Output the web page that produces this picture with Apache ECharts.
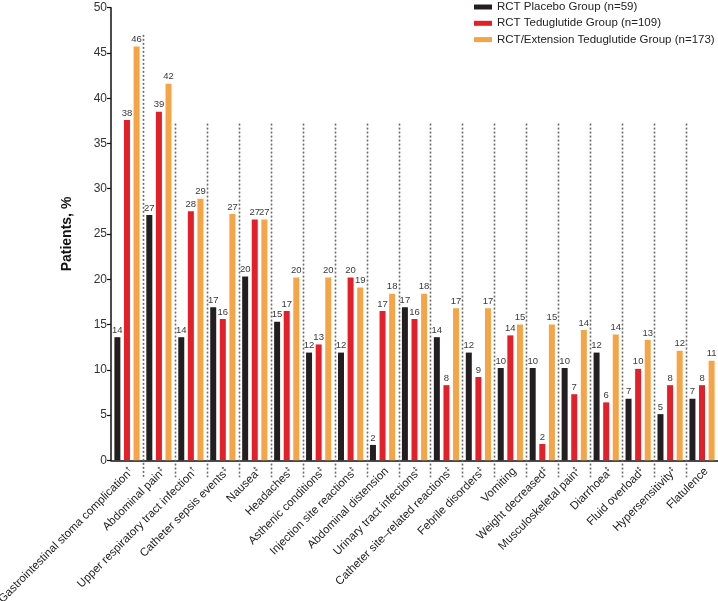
<!DOCTYPE html>
<html>
<head>
<meta charset="utf-8">
<script src="https://cdn.jsdelivr.net/npm/echarts@6/dist/echarts.min.js"></script>
<style>
html,body{margin:0;padding:0;background:#fff;}
#chart{width:718px;height:601px;}
</style>
</head>
<body>
<div id="chart"></div>
<script>
var categories = [
  'Gastrointestinal stoma complication', 'Abdominal pain', 'Upper respiratory tract infection',
  'Catheter sepsis events', 'Nausea', 'Headaches', 'Asthenic conditions', 'Injection site reactions',
  'Abdominal distension', 'Urinary tract infections', 'Catheter site\u2013related reactions',
  'Febrile disorders', 'Vomiting', 'Weight decreased', 'Musculoskeletal pain', 'Diarrhoea',
  'Fluid overload', 'Hypersensitivity', 'Flatulence'
];
var footnotes = ['\u2020', '\u2021', '\u2020', '\u2021', '\u2021', '\u2021', '\u2021', '\u2021', '',
  '\u2021', '\u2021', '\u2021', '', '\u2021', '\u2021', '\u2021', '\u2021', '\u2021', ''];
var seriesNames = ['RCT Placebo Group (n=59)', 'RCT Teduglutide Group (n=109)', 'RCT/Extension Teduglutide Group (n=173)'];
var placebo = [13.6, 27.1, 13.6, 16.9, 20.3, 15.3, 11.9, 11.9, 1.7, 16.9, 13.6, 11.9, 10.2, 10.2, 10.2, 11.9, 6.8, 5.1, 6.8];
var teduglutide = [37.6, 38.5, 27.5, 15.6, 26.6, 16.5, 12.8, 20.2, 16.5, 15.6, 8.3, 9.2, 13.8, 1.8, 7.3, 6.4, 10.1, 8.3, 8.3];
var extension = [45.7, 41.6, 28.9, 27.2, 26.6, 20.2, 20.2, 19.1, 18.4, 18.4, 16.8, 16.8, 15.0, 15.0, 14.4, 13.9, 13.3, 12.1, 11.0];
var yTicks = [0, 5, 10, 15, 20, 25, 30, 35, 40, 45, 50];

var colors = ['#231f20', '#e3202a', '#f5a446'];

var sepData = [];
for (var i = 0; i < categories.length - 1; i++) {
  sepData.push([i, i === 0 ? 47 : 37.2]);
}

var chart = echarts.init(document.getElementById('chart'));

function barSeries(name, data, color) {
  return {
    name: name,
    type: 'bar',
    data: data,
    barWidth: 6,
    barGap: '60%',
    itemStyle: { color: color },
    label: {
      show: true,
      position: 'top',
      distance: 2,
      fontSize: 9.5,
      color: '#3a3a3a',
      fontFamily: 'Liberation Sans, Arial, sans-serif',
      formatter: function (p) { return Math.round(p.value); }
    }
  };
}

var option = {
  animation: false,
  backgroundColor: '#fff',
  textStyle: { fontFamily: 'Liberation Sans, Arial, sans-serif' },
  grid: { left: 111, right: 0, top: 7.7, bottom: 140.7, containLabel: false, outerBoundsMode: 'none' },
  legend: {
    data: seriesNames,
    orient: 'vertical',
    left: 474,
    top: 0,
    padding: 0,
    itemWidth: 18,
    itemHeight: 5,
    itemGap: 2.3,
    icon: 'rect',
    textStyle: { fontSize: 11.5, color: '#222', lineHeight: 14 }
  },
  xAxis: {
    type: 'category',
    data: categories,
    axisLine: { lineStyle: { color: '#111', width: 1.5 } },
    axisTick: { show: false },
    axisLabel: {
      interval: 0,
      rotate: 45,
      margin: 5,
      verticalAlign: 'top',
      fontSize: 11.5,
      color: '#222',
      formatter: function (v, idx) {
        var f = footnotes[idx];
        return '{n|' + v + '}' + (f ? '{s|' + f + '}' : '');
      },
      rich: {
        n: { fontSize: 11.5, color: '#222' },
        s: { fontSize: 7, color: '#222', verticalAlign: 'top', padding: [0, 0, 6, 0] }
      }
    }
  },
  yAxis: {
    type: 'value',
    min: 0,
    max: 50,
    interval: 5,
    name: 'Patients, %',
    nameLocation: 'middle',
    nameGap: 37,
    nameTextStyle: { fontSize: 14, fontWeight: 'bold', color: '#111' },
    axisLine: { show: true, lineStyle: { color: '#111', width: 1.5 } },
    axisTick: { show: true, length: 4, lineStyle: { color: '#111', width: 1.2 } },
    axisLabel: {
      fontSize: 12, color: '#333', margin: 4,
      formatter: function (v) { return yTicks.indexOf(v) >= 0 ? String(v) : ''; }
    },
    splitLine: { show: false }
  },
  series: [
    barSeries(seriesNames[0], placebo, colors[0]),
    barSeries(seriesNames[1], teduglutide, colors[1]),
    barSeries(seriesNames[2], extension, colors[2]),
    {
      type: 'custom',
      name: 'separators',
      data: sepData,
      silent: true,
      clip: false,
      z: 1,
      renderItem: function (params, api) {
        var idx = api.value(0);
        var top = api.coord([idx, api.value(1)]);
        var base = api.coord([idx, 0]);
        var w = api.size([1, 0])[0];
        var x = Math.round(top[0] + w / 2) + 0.5;
        return {
          type: 'line',
          shape: { x1: x, y1: top[1], x2: x, y2: base[1] + 17 },
          style: { stroke: '#6b6b6b', lineWidth: 1.6, lineDash: [2, 2] }
        };
      }
    }
  ]
};
chart.setOption(option);
</script>
</body>
</html>
